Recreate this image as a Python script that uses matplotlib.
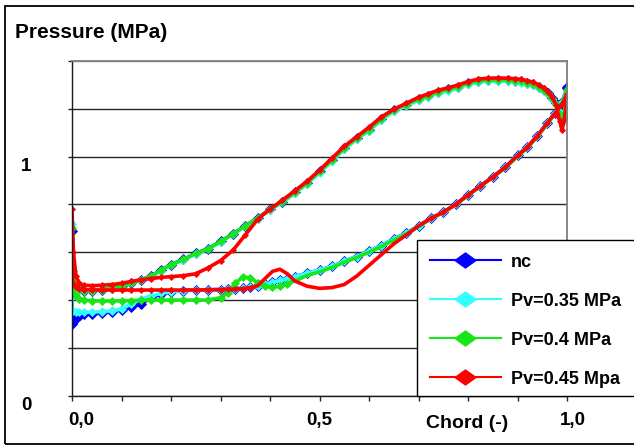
import matplotlib
matplotlib.use("Agg")
import matplotlib.pyplot as plt
import numpy as np
from matplotlib.lines import Line2D
from matplotlib.patches import Rectangle
from matplotlib.ticker import MultipleLocator
from matplotlib.transforms import ScaledTranslation

plt.rcParams["font.family"] = ["Liberation Sans", "DejaVu Sans"]
plt.rcParams["font.weight"] = "bold"

# --- Data: pressure along the chord -----------------------------------------
# pressure side, trailing edge -> leading edge
X_UPPER = [1.0, 0.995, 0.99, 0.985, 0.978, 0.97, 0.962, 0.954, 0.943, 0.932,
           0.92, 0.908, 0.895, 0.88, 0.86, 0.84, 0.82, 0.8, 0.78, 0.76,
           0.74, 0.72, 0.7, 0.675, 0.65, 0.625, 0.6, 0.575, 0.55, 0.525,
           0.5, 0.475, 0.45, 0.425, 0.4, 0.375, 0.35, 0.325, 0.3, 0.275,
           0.25, 0.225, 0.2, 0.18, 0.16, 0.14, 0.12, 0.1, 0.08, 0.06,
           0.04, 0.025, 0.015, 0.008, 0.003, 0.0]
# suction side, leading edge -> trailing edge
X_LOWER = [0.0, 0.003, 0.008, 0.015, 0.025, 0.04, 0.06, 0.08, 0.1, 0.12,
           0.14, 0.16, 0.18, 0.2, 0.225, 0.25, 0.275, 0.3, 0.315, 0.33,
           0.345, 0.36, 0.375, 0.39, 0.405, 0.42, 0.435, 0.45, 0.475, 0.5,
           0.525, 0.55, 0.575, 0.6, 0.625, 0.65, 0.675, 0.7, 0.725, 0.75,
           0.775, 0.8, 0.825, 0.85, 0.875, 0.9, 0.92, 0.94, 0.96, 0.975,
           0.99, 1.0]

P_UP_NC = [1.29, 1.20, 1.16, 1.19, 1.223, 1.244, 1.265, 1.279, 1.292, 1.304,
           1.31, 1.315, 1.318, 1.32, 1.32, 1.32, 1.317, 1.307, 1.292, 1.281,
           1.271, 1.255, 1.24, 1.218, 1.195, 1.157, 1.113, 1.077, 1.035, 0.985,
           0.938, 0.89, 0.85, 0.812, 0.78, 0.743, 0.71, 0.677, 0.645, 0.615,
           0.595, 0.57, 0.548, 0.525, 0.5, 0.485, 0.472, 0.46, 0.45, 0.443,
           0.44, 0.44, 0.445, 0.455, 0.50, 0.69]
P_UP_035 = [1.27, 1.19, 1.15, 1.185, 1.22, 1.24, 1.26, 1.274, 1.287, 1.299,
            1.305, 1.31, 1.313, 1.315, 1.315, 1.315, 1.312, 1.302, 1.287, 1.276,
            1.266, 1.25, 1.235, 1.213, 1.19, 1.152, 1.108, 1.072, 1.03, 0.98,
            0.933, 0.886, 0.846, 0.809, 0.777, 0.741, 0.708, 0.675, 0.643, 0.613,
            0.593, 0.568, 0.546, 0.523, 0.498, 0.483, 0.47, 0.458, 0.448, 0.441,
            0.438, 0.438, 0.443, 0.455, 0.52, 0.72]
P_UP_04 = [1.28, 1.18, 1.146, 1.18, 1.22, 1.244, 1.265, 1.279, 1.292, 1.304,
           1.31, 1.315, 1.318, 1.32, 1.32, 1.32, 1.317, 1.307, 1.292, 1.281,
           1.271, 1.255, 1.24, 1.218, 1.195, 1.157, 1.113, 1.077, 1.035, 0.985,
           0.938, 0.89, 0.85, 0.812, 0.78, 0.743, 0.71, 0.677, 0.645, 0.615,
           0.595, 0.57, 0.548, 0.525, 0.5, 0.485, 0.472, 0.46, 0.45, 0.443,
           0.44, 0.44, 0.445, 0.46, 0.52, 0.70]
P_UP_045 = [1.25, 1.16, 1.11, 1.15, 1.215, 1.25, 1.272, 1.287, 1.3, 1.311,
            1.318, 1.323, 1.326, 1.328, 1.329, 1.328, 1.324, 1.314, 1.3, 1.288,
            1.278, 1.263, 1.248, 1.223, 1.198, 1.166, 1.123, 1.083, 1.043, 0.993,
            0.943, 0.897, 0.857, 0.818, 0.78, 0.738, 0.672, 0.608, 0.565, 0.535,
            0.51, 0.502, 0.498, 0.495, 0.49, 0.485, 0.478, 0.47, 0.465, 0.462,
            0.46, 0.462, 0.47, 0.50, 0.60, 0.78]

P_LO_NC = [0.30, 0.31, 0.325, 0.335, 0.34, 0.343, 0.347, 0.352, 0.36, 0.37,
           0.385, 0.41, 0.425, 0.435, 0.44, 0.442, 0.443, 0.444, 0.445, 0.447,
           0.449, 0.453, 0.459, 0.466, 0.474, 0.482, 0.49, 0.498, 0.512, 0.525,
           0.541, 0.562, 0.582, 0.604, 0.628, 0.655, 0.68, 0.71, 0.742, 0.768,
           0.80, 0.84, 0.877, 0.915, 0.955, 1.005, 1.04, 1.087, 1.14, 1.182,
           1.228, 1.285]
P_LO_035 = [0.36, 0.355, 0.352, 0.35, 0.35, 0.35, 0.352, 0.355, 0.362, 0.385,
            0.405, 0.417, 0.428, 0.435, 0.44, 0.442, 0.443, 0.444, 0.445, 0.447,
            0.449, 0.453, 0.459, 0.466, 0.474, 0.482, 0.49, 0.498, 0.512, 0.525,
            0.541, 0.562, 0.582, 0.604, 0.628, 0.655, 0.68, 0.71, 0.742, 0.768,
            0.80, 0.84, 0.877, 0.915, 0.955, 1.005, 1.04, 1.087, 1.14, 1.182,
            1.228, 1.28]
P_LO_04 = [0.45, 0.43, 0.415, 0.405, 0.40, 0.397, 0.396, 0.396, 0.397, 0.398,
           0.399, 0.40, 0.40, 0.40, 0.40, 0.40, 0.40, 0.41, 0.43, 0.472,
           0.495, 0.494, 0.472, 0.458, 0.453, 0.458, 0.468, 0.48, 0.503, 0.518,
           0.536, 0.558, 0.578, 0.60, 0.624, 0.651, 0.677, 0.707, 0.74, 0.766,
           0.798, 0.838, 0.875, 0.913, 0.953, 1.0, 1.036, 1.083, 1.135, 1.178,
           1.225, 1.275]
P_LO_045 = [0.50, 0.47, 0.455, 0.447, 0.444, 0.442, 0.442, 0.442, 0.442, 0.442,
            0.442, 0.442, 0.442, 0.442, 0.442, 0.442, 0.443, 0.444, 0.445, 0.446,
            0.448, 0.452, 0.46, 0.49, 0.52, 0.529, 0.51, 0.48, 0.458, 0.449,
            0.452, 0.465, 0.50, 0.545, 0.59, 0.635, 0.672, 0.71, 0.742, 0.768,
            0.80, 0.84, 0.877, 0.915, 0.955, 1.005, 1.04, 1.087, 1.14, 1.18,
            1.22, 1.26]

LABELS = ["nc", "Pv=0.35 MPa", "Pv=0.4 MPa", "Pv=0.45 Mpa"]
COLORS = ["#0000ff", "#33ffff", "#19e619", "#ff0000"]
Y_TICKS = [0, 0.2, 0.4, 0.6, 0.8, 1.0, 1.2, 1.4]
Y_TICK_LABELS = ["0", "", "", "", "", "1", "", ""]

series = [
    (P_UP_NC, P_LO_NC, 5.0, None),
    (P_UP_035, P_LO_035, 4.3, None),
    (P_UP_04, P_LO_04, 3.6, (0.44, 2.0)),      # no markers in the cavity
    (P_UP_045, P_LO_045, 3.0, (0.37, 0.70)),
]

fig = plt.figure(figsize=(6.34, 4.45), dpi=100)
ax = fig.add_axes([72 / 634, 1 - 395.7 / 445, 495 / 634, 334.7 / 445])

x_all = np.array(X_UPPER + X_LOWER)
n_up = len(X_UPPER)
for (p_up, p_lo, ms, gap), color in zip(series, COLORS):
    y_all = np.array(p_up + p_lo)
    mask = np.ones(len(x_all), dtype=bool)
    if gap is not None:
        xl = np.array(X_LOWER)
        mask[n_up:] = (xl < gap[0]) | (xl > gap[1])
    ax.plot(x_all, y_all, color=color, lw=2.6, marker="D", ms=ms,
            mec=color, mfc=color, mew=0.6, markevery=list(mask),
            solid_joinstyle="round")

ax.set_xlim(0, 1.0)
ax.set_ylim(0, 1.4)

# axes styling
ax.set_yticks(Y_TICKS)
ax.set_yticklabels(Y_TICK_LABELS)
ax.yaxis.grid(True, color="#262626", lw=1.0)
ax.get_ygridlines()[-1].set_color("#808080")
ax.set_axisbelow(True)
ax.set_xticks([0.0, 0.5, 1.0])
ax.set_xticklabels(["0,0", "0,5", "1,0"])
ax.xaxis.set_minor_locator(MultipleLocator(0.1))
ax.tick_params(axis="y", which="major", direction="out", length=3,
               width=1, pad=26, labelsize=13.5, color="#262626")
ax.tick_params(axis="x", which="both", direction="out", length=3.5,
               width=1, pad=8, labelsize=13.5, color="#262626")
for sp in ["left", "bottom"]:
    ax.spines[sp].set_color("#1a1a1a")
    ax.spines[sp].set_linewidth(1.0)
for sp in ["top", "right"]:
    ax.spines[sp].set_color("#808080")
    ax.spines[sp].set_linewidth(1.3)

# Excel puts the labels a few pixels off their ticks
for lab in ax.get_yticklabels():
    lab.set_transform(lab.get_transform()
                      + ScaledTranslation(0, -0.08, fig.dpi_scale_trans))
    lab.set_fontweight("bold")
for lab, dx in zip(ax.get_xticklabels(), [0.09, 0.0, 0.06]):
    lab.set_transform(lab.get_transform()
                      + ScaledTranslation(dx, 0, fig.dpi_scale_trans))
    lab.set_fontweight("bold")

fig.text(15 / 634, 1 - 33 / 445, "Pressure (MPa)", fontsize=15,
         fontweight="bold", ha="left", va="center")
fig.text(467 / 634, 1 - 423 / 445, "Chord (-)", fontsize=14,
         fontweight="bold", ha="center", va="center")

# legend: white box running off the right edge of the chart
box = Rectangle((416.7 / 634, 1 - 395.7 / 445), 0.4, 155.7 / 445,
                transform=fig.transFigure, facecolor="white",
                edgecolor="black", lw=1.0, clip_on=False, zorder=4)
ax.add_artist(box)
wide_diamond = [(-1, 0), (0, 0.72), (1, 0), (0, -0.72), (-1, 0)]
handles = [Line2D([], [], color=c, lw=1.5, marker=wide_diamond, ms=15,
                  mfc=c, mec=c) for c in COLORS]
leg = ax.legend(handles, LABELS, loc="upper left",
                bbox_to_anchor=(416.7 / 634, 1 - 240 / 445),
                bbox_transform=fig.transFigure,
                borderaxespad=0, borderpad=0.75, labelspacing=1.22,
                handlelength=3.9, handletextpad=0.55,
                prop={"size": 13, "weight": "bold"},
                frameon=False)
leg.set_zorder(5)

# outer chart border
fig.patches.append(Rectangle((5 / 634, 1 - 444 / 445), 1.1, 438 / 445,
                             transform=fig.transFigure, fill=False,
                             edgecolor="black", lw=1.3))

fig.savefig("out.png", dpi=100)
